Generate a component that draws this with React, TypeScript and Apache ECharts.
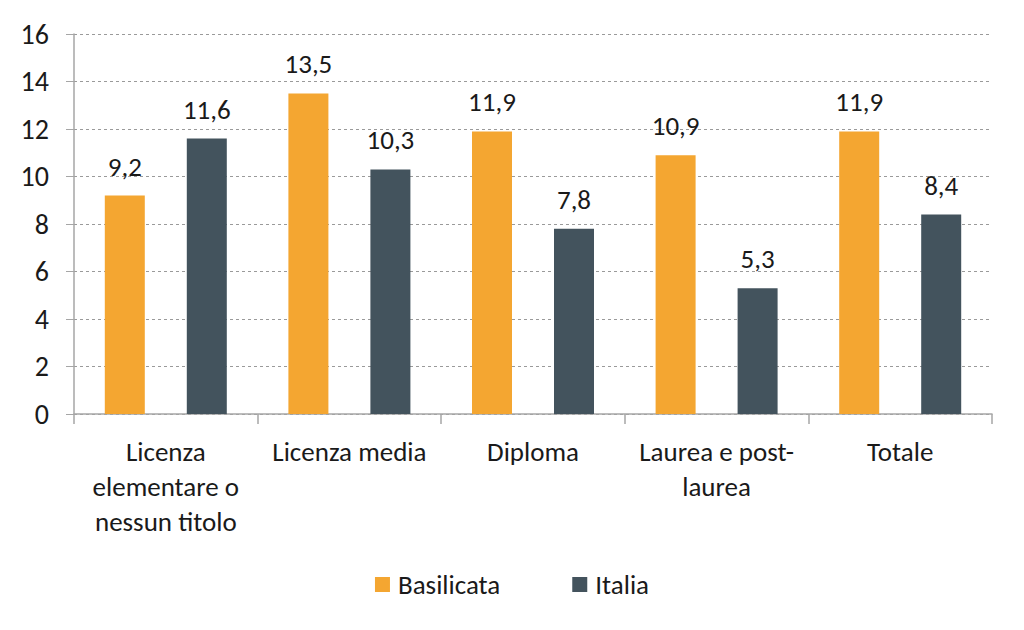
import React, { useEffect, useRef } from "react";
import * as echarts from "echarts";

const categories = [
  "Licenza\nelementare o\nnessun titolo",
  "Licenza media",
  "Diploma",
  "Laurea e post-\nlaurea",
  "Totale",
];
const basilicata = [9.2, 13.5, 11.9, 10.9, 11.9];
const italia = [11.6, 10.3, 7.8, 5.3, 8.4];
const yTicks = { min: 0, max: 16, interval: 2 };

const FONT = "Carlito, 'Open Sans', 'Noto Sans', sans-serif";
const TEXT = "#1a1a1a";
const FS = 27;

export default function App() {
  const ref = useRef<HTMLDivElement>(null);
  useEffect(() => {
    const chart = echarts.init(ref.current!, null, { renderer: "svg" });
    const label = {
      show: true,
      position: "top",
      distance: 16,
      color: TEXT,
      fontSize: FS,
      fontFamily: FONT,
      formatter: (p: any) => String(p.value).replace(".", ","),
    };
    chart.setOption({
      animation: false,
      backgroundColor: "#ffffff",
      textStyle: { fontFamily: FONT },
      grid: { left: 74, right: 32, top: 34, bottom: 216, containLabel: false },
      legend: {
        bottom: 27,
        left: "center",
        itemWidth: 15,
        itemHeight: 15,
        itemGap: 72,
        icon: "rect",
        textStyle: { color: TEXT, fontSize: FS, fontFamily: FONT, padding: [0, 0, 0, 3] },
        data: ["Basilicata", "Italia"],
      },
      xAxis: {
        type: "category",
        data: categories,
        axisLine: { lineStyle: { color: "#a6a6a6", width: 1.5 } },
        axisTick: { show: true, length: 10, lineStyle: { color: "#a6a6a6", width: 1.5 } },
        axisLabel: {
          color: TEXT,
          fontSize: FS,
          fontFamily: FONT,
          lineHeight: 35,
          margin: 20,
          interval: 0,
        },
      },
      yAxis: {
        type: "value",
        min: yTicks.min,
        max: yTicks.max,
        interval: yTicks.interval,
        axisLine: { show: true, lineStyle: { color: "#a6a6a6", width: 1.5 } },
        axisTick: { show: true, length: 8, lineStyle: { color: "#a6a6a6", width: 1 } },
        axisLabel: { color: TEXT, fontSize: 28, fontFamily: FONT, margin: 25 },
        splitLine: { lineStyle: { color: "#9a9a9a", type: [3, 3], width: 1 } },
      },
      series: [
        {
          name: "Basilicata",
          type: "bar",
          data: basilicata,
          barWidth: 40,
          barGap: "105%",
          itemStyle: { color: "#f4a631" },
          label,
        },
        {
          name: "Italia",
          type: "bar",
          data: italia,
          barWidth: 40,
          itemStyle: { color: "#43535d" },
          label,
        },
      ],
    });
    return () => chart.dispose();
  }, []);
  return (
    <div
      ref={ref}
      style={{ position: "fixed", left: 0, top: 0, width: 1024, height: 630, background: "#fff" }}
    />
  );
}
